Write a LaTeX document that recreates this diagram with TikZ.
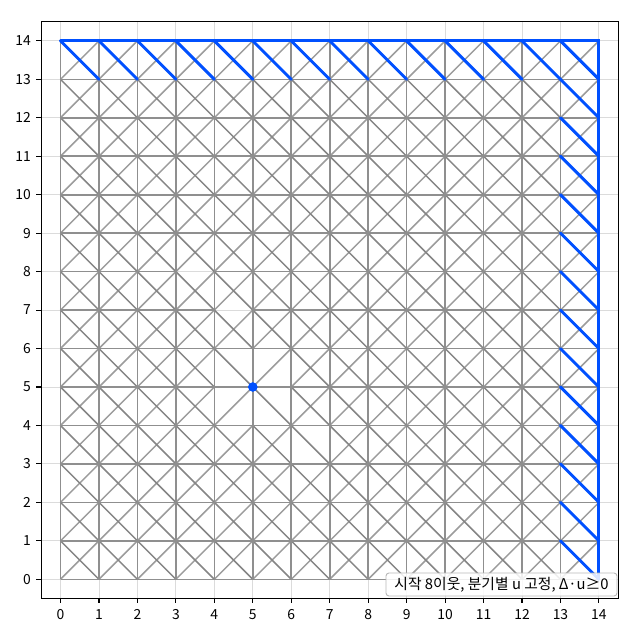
\documentclass[tikz,border=0pt]{standalone}
\usepackage{fontspec}
\setmainfont{Noto Sans CJK KR}
\definecolor{bluepath}{RGB}{0,80,255}
% edges absent from the mesh
\expandafter\def\csname no-s-4-5\endcsname{}
\expandafter\def\csname no-s-5-4\endcsname{}
\expandafter\def\csname no-s-6-3\endcsname{}
\expandafter\def\csname no-b-5-5\endcsname{}
\expandafter\def\csname no-b-4-4\endcsname{}
\expandafter\def\csname no-h-4-7\endcsname{}
\expandafter\def\csname no-h-3-8\endcsname{}
\begin{document}
\begin{tikzpicture}[x=38.46pt,y=38.46pt,
  hv/.style={draw=black!44, line width=1.6pt},
  sl/.style={draw=black!39, line width=1.5pt},
  bs/.style={draw=black!48, line width=1.5pt},
  bluee/.style={draw=bluepath, line width=2.9pt, line cap=round},
  gridl/.style={draw=black!14, line width=0.9pt},
  tickl/.style={draw=black, line width=1.1pt},
  frame/.style={draw=black, line width=1.1pt},
  xlab/.style={anchor=base, inner sep=0pt, font=\fontsize{13.9}{16}\selectfont},
  ylab/.style={anchor=base east, inner sep=0pt, font=\fontsize{13.9}{16}\selectfont},
  startdot/.style={circle, fill=bluepath, inner sep=0pt, minimum size=9.6pt},
  legendbox/.style={draw=black!28, line width=0.9pt, fill=white, fill opacity=0.85, text opacity=1, rounded corners=3pt, inner sep=0pt, minimum width=231pt, minimum height=23pt, font=\fontsize{14.8}{17}\selectfont}]
\useasboundingbox (-60.5pt,-45.7pt) rectangle (573.5pt,579.3pt);
% grid
\foreach \k in {0,...,14}{
  \draw[gridl] (\k,-0.5) -- (\k,14.5);
  \draw[gridl] (-0.5,\k) -- (14.5,\k);
}
% vertices
\foreach \i in {0,...,14}{\foreach \j in {0,...,14}{\coordinate (v-\i-\j) at (\i,\j);}}
% diagonals
\foreach \i in {0,...,13}{\foreach \j in {0,...,13}{
  \pgfmathtruncatemacro\ii{\i+1}
  \pgfmathtruncatemacro\jj{\j+1}
  \ifcsname no-s-\i-\j\endcsname\else \draw[sl] (v-\i-\j) -- (v-\ii-\jj);\fi
  \ifcsname no-b-\i-\j\endcsname\else \draw[bs] (v-\i-\jj) -- (v-\ii-\j);\fi
}}
% horizontals and verticals
\foreach \i in {0,...,13}{\foreach \j in {0,...,14}{
  \pgfmathtruncatemacro\ii{\i+1}
  \ifcsname no-h-\i-\j\endcsname\else\draw[hv] (v-\i-\j) -- (v-\ii-\j);\fi
  \ifcsname no-v-\j-\i\endcsname\else\draw[hv] (v-\j-\i) -- (v-\j-\ii);\fi
}}
% blue edges
\draw[bluee] (v-0-14) -- (v-14-14) -- (v-14-0);
\foreach \k in {0,...,13}{
  \pgfmathtruncatemacro\kk{\k+1}
  \draw[bluee] (v-\k-14) -- (v-\kk-13);
  \draw[bluee] (v-13-\kk) -- (v-14-\k);
}
\node[startdot] (start) at (v-5-5) {};
% frame
\draw[frame] (-0.5,-0.5) rectangle (14.5,14.5);
% ticks and labels
\foreach \k in {0,...,14}{
  \draw[tickl] (\k,-0.5) -- ++(0,-4.9pt);
  \draw[tickl] (-0.5,\k) -- ++(-4.9pt,0);
  \node[xlab, yshift=-39.7pt] (xl\k) at (\k,0) {\k};
  \node[ylab, xshift=-29.5pt, yshift=-4.85pt] (yl\k) at (0,\k) {\k};
}
\node[legendbox] (legend) at (441pt,-5.2pt) {시작 8이웃, 분기별 u 고정, Δ·u≥0};
\end{tikzpicture}
\end{document}
